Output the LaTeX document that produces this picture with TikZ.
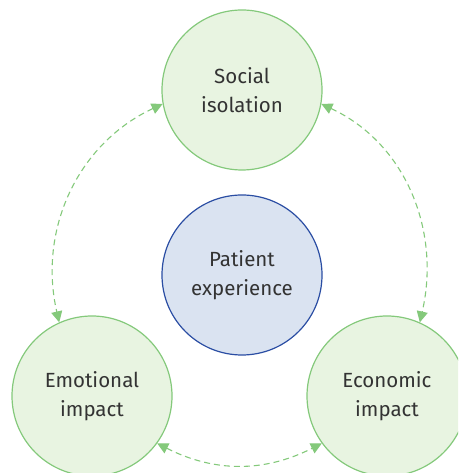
\documentclass[tikz,border=0pt]{standalone}
\usepackage{fontspec}
\setmainfont{Fira Sans}
\usepackage{tikz}
\usetikzlibrary{arrows.meta}

\definecolor{leafgreen}{HTML}{E8F4E1}
\definecolor{leafline}{HTML}{84C97B}
\definecolor{corefill}{HTML}{DAE3F1}
\definecolor{coreline}{HTML}{2A4DA3}
\definecolor{labeltext}{HTML}{333333}

\begin{document}
\begin{tikzpicture}[x=1pt,y=1pt,
    theme/.style={circle, minimum size=160pt, inner sep=0pt, line width=1.2pt,
        draw=leafline, fill=leafgreen, text=labeltext, align=center,
        font=\fontsize{20.5}{28.5}\selectfont},
    core/.style={theme, draw=coreline, fill=corefill},
    link/.style={leafline, line width=1.1pt, dash pattern=on 6pt off 4pt,
        {Triangle[length=11pt,width=11pt]}-{Triangle[length=11pt,width=11pt]}}]
        \useasboundingbox (0,0) rectangle (458,473); % same size as the reference
        \begin{scope}
            \clip (0,0) rectangle (458,473); % bottom circles run off the page

            \node[theme] (social) at (242,383) {Social\\isolation};
            \node[core] (patient) at (242,198) {Patient\\experience};
            \node[theme] (emotional) at (92,77) {Emotional\\impact};
            \node[theme] (economic) at (387,77) {Economic\\impact};

            % dashed ring round the centre, one piece for each pair
            \draw[link] (social.190) to[out=205,in=103] (emotional.114);
            \draw[link] (social.350) to[out=335,in=77] (economic.66);
            \draw[link] (emotional.324) to[out=333,in=207] (economic.216);
        \end{scope}
    \end{tikzpicture}
\end{document}
